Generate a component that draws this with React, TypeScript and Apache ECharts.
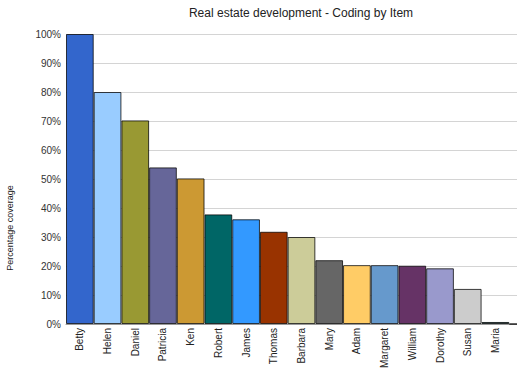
import React, { useEffect, useRef } from "react";
import * as echarts from "echarts";

const categories = [
  "Betty", "Helen", "Daniel", "Patricia", "Ken", "Robert", "James", "Thomas",
  "Barbara", "Mary", "Adam", "Margaret", "William", "Dorothy", "Susan", "Maria", "",
];
const values = [100, 80, 70.2, 54, 50.2, 37.8, 36.1, 31.8, 30, 22, 20.3, 20.3, 20.1, 19.2, 12.1, 0.7, 0];
const colors = [
  "#3366CC", "#99CCFF", "#999933", "#666699", "#CC9933", "#006666", "#3399FF", "#993300",
  "#CCCC99", "#666666", "#FFCC66", "#6699CC", "#663366", "#9999CC", "#CCCCCC", "#336666", "#FF9900",
];
const yTicks = { min: 0, max: 100, interval: 10 };
const titleText = "Real estate development - Coding by Item";
const yAxisTitle = "Percentage coverage";

export default function App() {
  const ref = useRef<HTMLDivElement>(null);
  useEffect(() => {
    if (!ref.current) return;
    const chart = echarts.init(ref.current, undefined, { renderer: "svg" });
    chart.setOption({
      animation: false,
      backgroundColor: "#ffffff",
      textStyle: { fontFamily: "Liberation Sans, Arial, sans-serif" },
      grid: { left: 66, right: 0, top: 34, bottom: 58, containLabel: false },
      graphic: [
        {
          type: "text",
          x: 301,
          y: 13,
          style: {
            text: titleText,
            fill: "#222",
            font: "12px 'Liberation Sans', Arial, sans-serif",
            textAlign: "center",
            textVerticalAlign: "middle",
          },
        },
        {
          type: "text",
          x: 10,
          y: 228,
          rotation: Math.PI / 2,
          style: {
            text: yAxisTitle,
            fill: "#222",
            font: "9px 'Liberation Sans', Arial, sans-serif",
            textAlign: "center",
            textVerticalAlign: "middle",
          },
        },
      ],
      xAxis: {
        type: "category",
        data: categories,
        axisTick: { show: false },
        axisLine: { show: true, lineStyle: { color: "#999", width: 1 } },
        axisLabel: {
          interval: 0,
          rotate: 90,
          margin: 4,
          color: "#222",
          fontSize: 10,
          fontFamily: "Liberation Sans, Arial, sans-serif",
        },
      },
      yAxis: {
        type: "value",
        min: yTicks.min,
        max: yTicks.max,
        interval: yTicks.interval,
        axisLine: { show: false },
        axisTick: { show: false },
        axisLabel: {
          formatter: "{value}%",
          color: "#333",
          fontSize: 10,
          margin: 5,
          fontFamily: "Liberation Sans, Arial, sans-serif",
        },
        splitLine: { lineStyle: { color: "#d4d4d4", width: 1 } },
      },
      series: [
        {
          type: "bar",
          barCategoryGap: "0%",
          data: values.map((v, i) => ({
            value: v,
            itemStyle: {
              color: colors[i],
              borderColor: "rgba(0,0,0,0.75)",
              borderWidth: 1,
            },
          })),
        },
      ],
    });
    return () => chart.dispose();
  }, []);
  return (
    <div
      style={{
        position: "fixed",
        left: 0,
        top: 0,
        width: 517,
        height: 382,
        overflow: "hidden",
        background: "#fff",
      }}
    >
      <div ref={ref} style={{ width: 537, height: 382 }} />
    </div>
  );
}
